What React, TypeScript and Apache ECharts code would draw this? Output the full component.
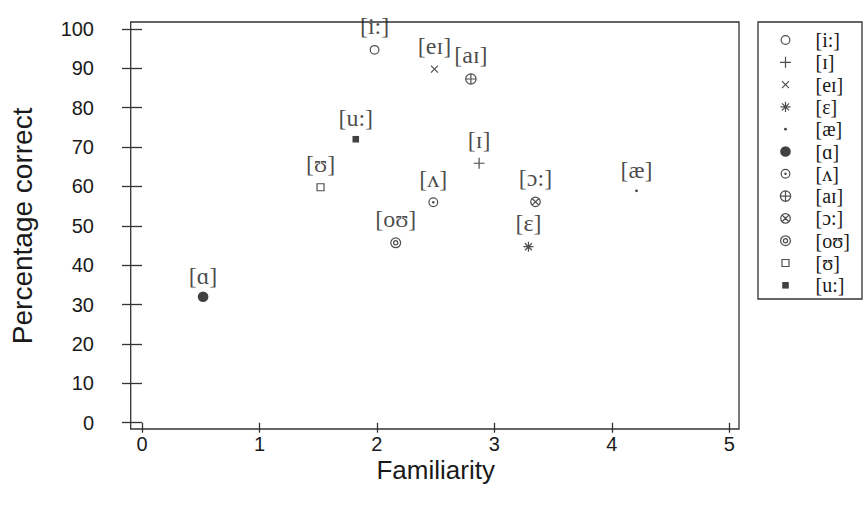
import React, { useEffect, useRef } from 'react';
import * as echarts from 'echarts';

const phonemes = ['[i:]', '[ɪ]', '[eɪ]', '[ɛ]', '[æ]', '[ɑ]', '[ʌ]', '[aɪ]', '[ɔ:]', '[oʊ]', '[ʊ]', '[u:]'];
const familiarity = [1.98, 2.87, 2.49, 3.29, 4.21, 0.52, 2.48, 2.8, 3.35, 2.16, 1.52, 1.82];
const percentCorrect = [94.7, 65.9, 89.8, 44.7, 58.9, 32.0, 56.0, 87.3, 56.1, 45.7, 59.8, 72.0];
const xAxisMin = 0;
const xAxisMax = 5;
const yAxisMin = 0;
const yAxisMax = 100;

const SANS = "'Liberation Sans', Arial, Helvetica, sans-serif";
const SERIF = "'Liberation Serif', 'DejaVu Serif', 'Times New Roman', serif";
const INK = '#1a1a1a';

const anchor = 'M-1 -1 M1 1 ';
const circ = (r: number) => `M${r} 0 A${r} ${r} 0 1 1 ${-r} 0 A${r} ${r} 0 1 1 ${r} 0 Z `;
const plus = (a: number) => `M${-a} 0 L${a} 0 M0 ${-a} L0 ${a} `;
const cross = (a: number) => `M${-a} ${-a} L${a} ${a} M${-a} ${a} L${a} ${-a} `;
const square = (a: number) => `M${-a} ${-a} L${a} ${-a} L${a} ${a} L${-a} ${a} Z `;

type Sym = { path: string; filled: boolean };
const symbols: Sym[] = [
  { path: circ(0.62), filled: false },
  { path: plus(0.78), filled: false },
  { path: cross(0.5), filled: false },
  { path: plus(0.72) + cross(0.5), filled: false },
  { path: circ(0.2), filled: true },
  { path: circ(0.76), filled: true },
  { path: circ(0.62) + circ(0.1), filled: false },
  { path: circ(0.74) + plus(0.74), filled: false },
  { path: circ(0.68) + cross(0.48), filled: false },
  { path: circ(0.7) + circ(0.3), filled: false },
  { path: square(0.5), filled: false },
  { path: square(0.47), filled: true },
];

const styleFor = (s: Sym) =>
  s.filled
    ? { color: '#111', borderColor: '#111', borderWidth: 0 }
    : { color: 'none', borderColor: '#222', borderWidth: 1.2 };

export default function App() {
  const ref = useRef<HTMLDivElement>(null);
  useEffect(() => {
    if (!ref.current) return;
    const chart = echarts.init(ref.current, undefined, { renderer: 'svg' });
    const series = phonemes.map((name, i) => ({
      type: 'scatter',
      name,
      symbol: 'path://' + anchor + symbols[i].path,
      symbolSize: 14,
      itemStyle: styleFor(symbols[i]),
      emphasis: { disabled: true },
      label: {
        show: true,
        position: 'top',
        distance: 2,
        formatter: name,
        color: INK,
        fontFamily: SERIF,
        fontSize: 24,
        lineHeight: 24,
      },
      data: [[familiarity[i], percentCorrect[i]]],
    }));
    chart.setOption({
      animation: false,
      backgroundColor: '#fff',
      grid: { left: 140.7, right: 135.7, top: 29, bottom: 89.3 },
      xAxis: {
        type: 'value',
        min: xAxisMin,
        max: xAxisMax,
        interval: 1,
        offset: 6.3,
        name: 'Familiarity',
        nameLocation: 'middle',
        nameGap: 28,
        nameMoveOverlap: false,
        nameTextStyle: { fontFamily: SANS, fontSize: 26, color: INK },
        axisLine: { show: false },
        axisTick: { show: true, length: 10, lineStyle: { color: '#333', width: 1.3 } },
        axisLabel: { margin: 5, fontFamily: SANS, fontSize: 20, color: INK },
        splitLine: { show: false },
      },
      yAxis: {
        type: 'value',
        min: yAxisMin,
        max: yAxisMax,
        interval: 10,
        offset: 10,
        name: 'Percentage correct',
        nameLocation: 'middle',
        nameRotate: 90,
        nameGap: 96,
        nameMoveOverlap: false,
        nameTextStyle: { fontFamily: SANS, fontSize: 28, color: INK },
        axisLine: { show: false },
        axisTick: { show: true, length: 20, lineStyle: { color: '#333', width: 1.3 } },
        axisLabel: { margin: 38, fontFamily: SANS, fontSize: 20, color: INK },
        splitLine: { show: false },
      },
      legend: {
        orient: 'vertical',
        left: 776,
        top: 30,
        padding: 0,
        itemWidth: 50,
        itemHeight: 14,
        itemGap: 2.3,
        selectedMode: false,
        textStyle: { fontFamily: SERIF, fontSize: 20, color: INK },
        data: phonemes.map((name, i) => ({
          name,
          icon: 'path://' + anchor + symbols[i].path,
          itemStyle: styleFor(symbols[i]),
        })),
      },
      graphic: [
        {
          type: 'rect',
          shape: { x: 130.7, y: 22, width: 608.3, height: 407 },
          style: { fill: 'none', stroke: '#333', lineWidth: 1.3 },
          silent: true,
        },
        {
          type: 'rect',
          shape: { x: 758, y: 22, width: 104, height: 277 },
          style: { fill: 'none', stroke: '#333', lineWidth: 1.3 },
          silent: true,
        },
      ],
      series,
    });
    return () => chart.dispose();
  }, []);
  return (
    <div
      ref={ref}
      style={{ position: 'absolute', left: 0, top: 0, width: 865, height: 512 }}
    />
  );
}
